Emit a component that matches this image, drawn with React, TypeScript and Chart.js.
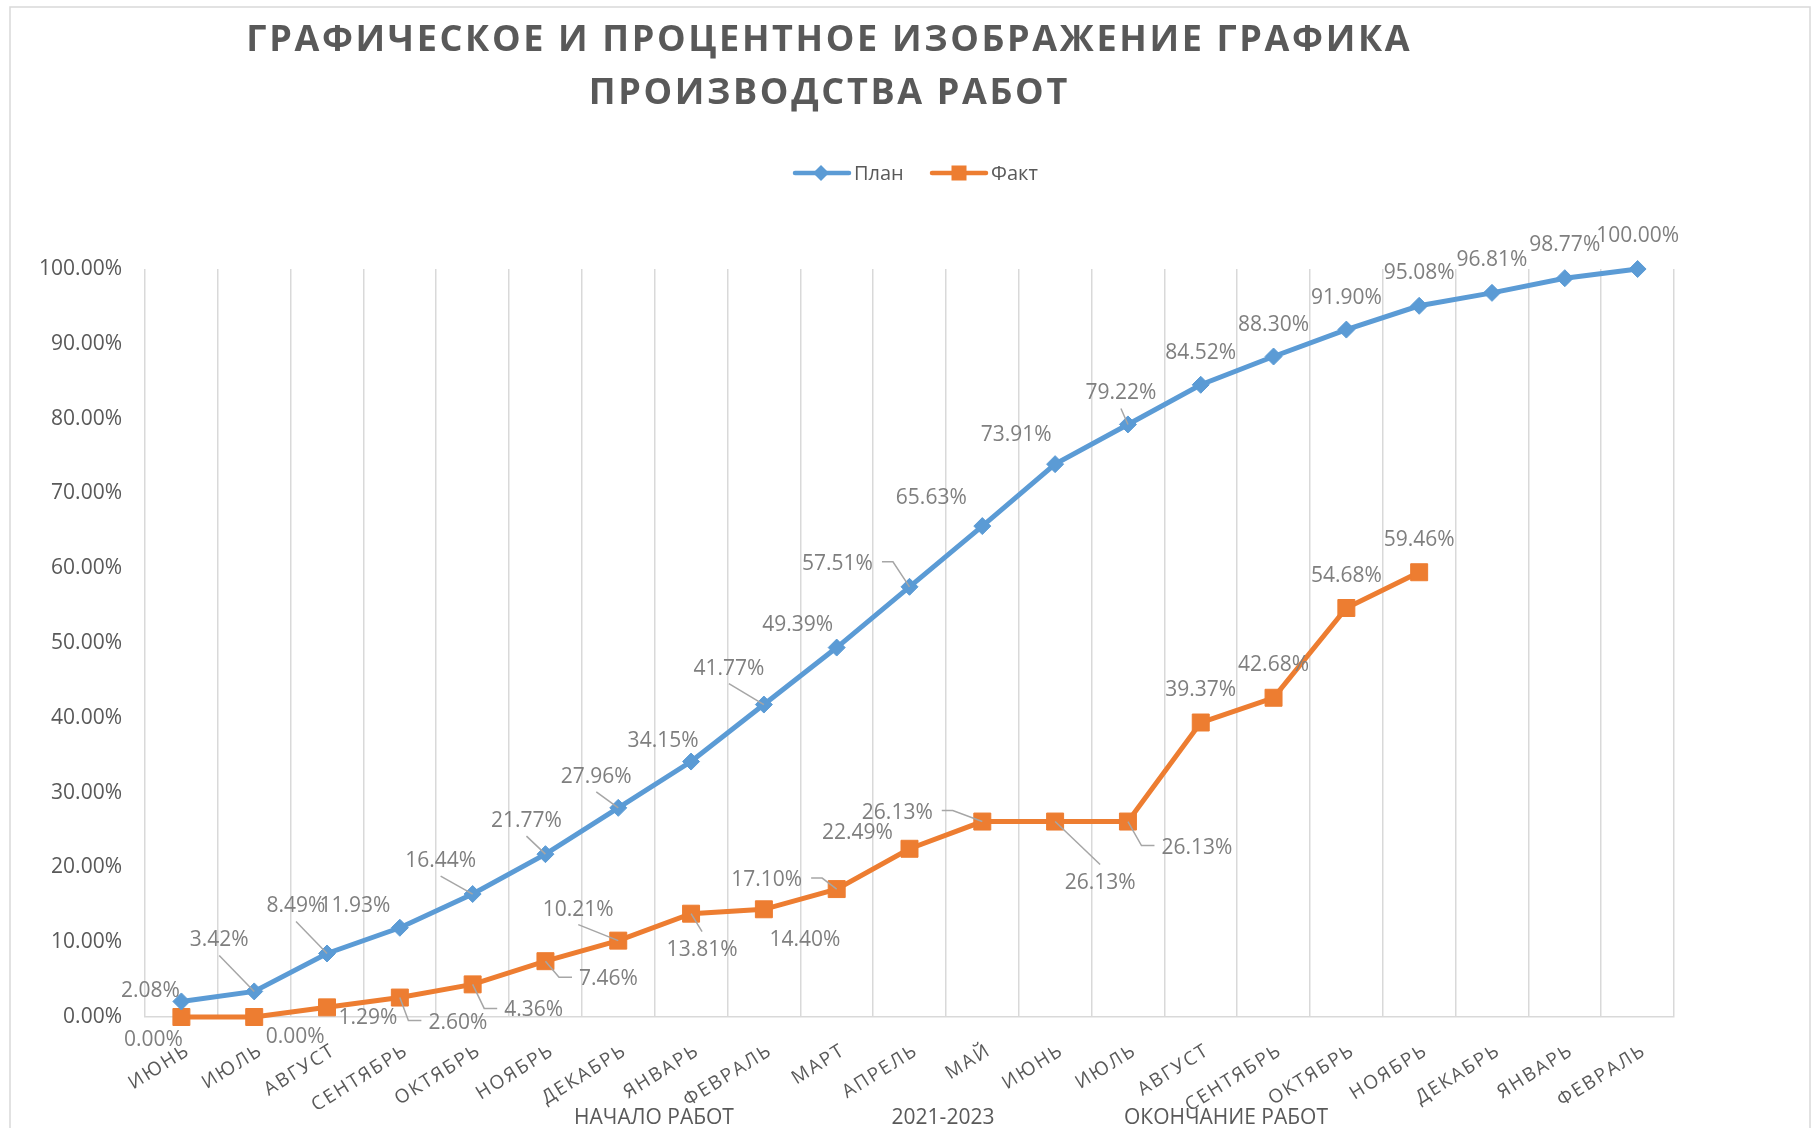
import React, { useEffect, useRef } from 'react';
import { Chart, registerables } from 'chart.js';

Chart.register(...registerables);

// ---------- data ----------
const MONTHS = [
  'ИЮНЬ', 'ИЮЛЬ', 'АВГУСТ', 'СЕНТЯБРЬ', 'ОКТЯБРЬ', 'НОЯБРЬ', 'ДЕКАБРЬ',
  'ЯНВАРЬ', 'ФЕВРАЛЬ', 'МАРТ', 'АПРЕЛЬ', 'МАЙ', 'ИЮНЬ', 'ИЮЛЬ', 'АВГУСТ',
  'СЕНТЯБРЬ', 'ОКТЯБРЬ', 'НОЯБРЬ', 'ДЕКАБРЬ', 'ЯНВАРЬ', 'ФЕВРАЛЬ',
];
const PLAN = [
  2.08, 3.42, 8.49, 11.93, 16.44, 21.77, 27.96, 34.15, 41.77, 49.39, 57.51,
  65.63, 73.91, 79.22, 84.52, 88.3, 91.9, 95.08, 96.81, 98.77, 100.0,
];
const FACT: (number | null)[] = [
  0.0, 0.0, 1.29, 2.6, 4.36, 7.46, 10.21, 13.81, 14.4, 17.1, 22.49, 26.13,
  26.13, 26.13, 39.37, 42.68, 54.68, 59.46, null, null, null,
];
const SERIES_NAMES = ['План', 'Факт'];
const TITLE_LINES = ['ГРАФИЧЕСКОЕ И ПРОЦЕНТНОЕ ИЗОБРАЖЕНИЕ ГРАФИКА', 'ПРОИЗВОДСТВА РАБОТ'];
const PERIOD_LABELS = ['НАЧАЛО РАБОТ', '2021-2023', 'ОКОНЧАНИЕ РАБОТ'];
const Y_MIN = 0;
const Y_MAX = 100;
const Y_STEP = 10;

// ---------- styles ----------
const PLAN_COLOR = '#5b9bd5';
const FACT_COLOR = '#ed7d31';
const TEXT_DARK = '#595959';
const TEXT_LABEL = '#7f7f7f';
const GRID = '#d9d9d9';
const FONT = '"Open Sans", "Noto Sans", sans-serif';

// label offsets (dx, dy from point) and leader-line style
type LabelPos = [number, number, string];
const PLAN_LABEL_POS: LabelPos[] = [
  [-31, -10, ''], [-35, -51, 'b'], [-31, -47, 'b'], [-45, -22, ''], [-32, -33, 'b'],
  [-19, -33, 'b'], [-22, -31, 'b'], [-28, -21, ''], [-35, -36, 'b'], [-39, -23, ''],
  [-72, -23, 'r'], [-51, -28, ''], [-39, -29, ''], [-7, -31, 'b'], [0, -32, ''],
  [0, -32, ''], [0, -32, ''], [0, -33, ''], [0, -33, ''], [0, -33, ''], [0, -33, ''],
];
const FACT_LABEL_POS: LabelPos[] = [
  [-28, 23, ''], [41, 20, ''], [41, 11, ''], [58, 25, 'l'], [61, 26, 'l'],
  [63, 18, 'l'], [-40, -31, 'b'], [11, 36, 't'], [41, 31, ''], [-70, -9, 'r'],
  [-52, -16, ''], [-85, -9, 'r'], [45, 61, 't'], [69, 26, 'l'], [0, -32, ''],
  [0, -33, ''], [0, -32, ''], [0, -32, ''], [0, 0, ''], [0, 0, ''], [0, 0, ''],
];
const PERIOD_X = [654, 943, 1226];

const setSpacing = (ctx: any, px: number) => {
  try { ctx.letterSpacing = px + 'px'; } catch (e) { /* ignore */ }
};

const decorPlugin = {
  id: 'decor',
  afterDatasetsDraw(chart: any) {
    const ctx = chart.ctx;
    ctx.save();
    ctx.font = '21px ' + FONT;
    ctx.textAlign = 'center';
    ctx.textBaseline = 'middle';
    const sets: [number, (number | null)[], LabelPos[]][] = [
      [0, PLAN, PLAN_LABEL_POS],
      [1, FACT, FACT_LABEL_POS],
    ];
    sets.forEach(([di, values, pos]) => {
      const meta = chart.getDatasetMeta(di);
      values.forEach((v, i) => {
        if (v === null || v === undefined) return;
        const pt = meta.data[i];
        const px = pt.x;
        const py = pt.y;
        const [dx, dy, leader] = pos[i];
        const cx = px + dx;
        const cy = py + dy;
        const text = v.toFixed(2) + '%';
        const w = ctx.measureText(text).width;
        if (leader) {
          ctx.beginPath();
          ctx.strokeStyle = '#a6a6a6';
          ctx.lineWidth = 1.5;
          if (leader === 'b') {
            ctx.moveTo(cx, cy + 15);
            ctx.lineTo(px, py);
          } else if (leader === 't') {
            ctx.moveTo(cx, cy - 18);
            ctx.lineTo(px, py);
          } else if (leader === 'r') {
            const sx = cx + w / 2 + 9;
            ctx.moveTo(sx, cy - 2);
            ctx.lineTo(sx + 11, cy - 2);
            ctx.lineTo(px, py);
          } else if (leader === 'l') {
            const sx = cx - w / 2 - 7;
            ctx.moveTo(sx, cy - 2);
            ctx.lineTo(sx - 13, cy - 2);
            ctx.lineTo(px, py);
          }
          ctx.stroke();
        }
        ctx.fillStyle = TEXT_LABEL;
        ctx.fillText(text, cx, cy);
      });
    });
    ctx.restore();
  },
  afterDraw(chart: any) {
    const ctx = chart.ctx;
    const xScale = chart.scales.x;

    // outer border
    ctx.save();
    ctx.strokeStyle = GRID;
    ctx.lineWidth = 1.5;
    ctx.strokeRect(10, 7, 1800, 1200);

    // title
    ctx.fillStyle = TEXT_DARK;
    ctx.font = 'bold 36px ' + FONT;
    ctx.textBaseline = 'alphabetic';
    ctx.textAlign = 'left';
    setSpacing(ctx, 0);
    const w0 = ctx.measureText(TITLE_LINES[0]).width;
    const spacing = Math.max(0, (1166 - w0) / TITLE_LINES[0].length);
    setSpacing(ctx, spacing);
    const titleBase = [51, 104];
    TITLE_LINES.forEach((line, k) => {
      const w = ctx.measureText(line).width - spacing;
      ctx.fillText(line, 828 - w / 2, titleBase[k]);
    });
    setSpacing(ctx, 0);

    // legend
    const ly = 173;
    ctx.lineWidth = 4.5;
    ctx.lineCap = 'round';
    ctx.strokeStyle = PLAN_COLOR;
    ctx.beginPath(); ctx.moveTo(795, ly); ctx.lineTo(849, ly); ctx.stroke();
    ctx.fillStyle = PLAN_COLOR;
    ctx.beginPath();
    ctx.moveTo(821, ly - 8); ctx.lineTo(829, ly); ctx.lineTo(821, ly + 8); ctx.lineTo(813, ly);
    ctx.closePath(); ctx.fill();
    ctx.strokeStyle = FACT_COLOR;
    ctx.beginPath(); ctx.moveTo(932, ly); ctx.lineTo(986, ly); ctx.stroke();
    ctx.fillStyle = FACT_COLOR;
    ctx.fillRect(959 - 7.5, ly - 7.5, 15, 15);
    ctx.fillStyle = TEXT_DARK;
    ctx.font = '20px ' + FONT;
    ctx.textBaseline = 'middle';
    ctx.textAlign = 'left';
    ctx.fillText(SERIES_NAMES[0], 854, ly + 1);
    ctx.fillText(SERIES_NAMES[1], 991, ly + 1);

    // x labels (rotated, tracked)
    ctx.font = '19px ' + FONT;
    ctx.textBaseline = 'alphabetic';
    ctx.textAlign = 'right';
    const xs = 2;
    setSpacing(ctx, xs);
    const capH = 19 * 0.714;
    const ang = (-32 * Math.PI) / 180;
    MONTHS.forEach((m, i) => {
      const cx = xScale.getPixelForValue(i);
      ctx.save();
      ctx.translate(cx + 1, 1043);
      ctx.rotate(ang);
      ctx.fillText(m, xs, capH);
      ctx.restore();
    });
    setSpacing(ctx, 0);

    // period labels
    ctx.font = '21px ' + FONT;
    ctx.textAlign = 'center';
    ctx.textBaseline = 'alphabetic';
    PERIOD_LABELS.forEach((t, k) => {
      ctx.fillText(t, PERIOD_X[k], 1124);
    });
    ctx.restore();
  },
};

export default function App() {
  const ref = useRef<HTMLCanvasElement>(null);
  useEffect(() => {
    if (!ref.current) return;
    const chart = new Chart(ref.current, {
      type: 'line',
      data: {
        labels: MONTHS,
        datasets: [
          {
            label: SERIES_NAMES[0],
            data: PLAN,
            borderColor: PLAN_COLOR,
            backgroundColor: PLAN_COLOR,
            borderWidth: 5,
            pointStyle: 'rectRot',
            pointRadius: 8.5,
            pointBorderWidth: 1,
            pointBackgroundColor: PLAN_COLOR,
            pointBorderColor: PLAN_COLOR,
            tension: 0,
            clip: false,
          },
          {
            label: SERIES_NAMES[1],
            data: FACT,
            borderColor: FACT_COLOR,
            backgroundColor: FACT_COLOR,
            borderWidth: 5,
            pointStyle: 'rect',
            pointRadius: 12,
            pointBorderWidth: 1,
            pointBackgroundColor: FACT_COLOR,
            pointBorderColor: FACT_COLOR,
            tension: 0,
            spanGaps: false,
            clip: false,
          },
        ],
      },
      options: {
        responsive: false,
        animation: false,
        layout: { padding: { top: 269, right: 142, bottom: 0, left: 0 } },
        plugins: {
          legend: { display: false },
          title: { display: false },
          tooltip: { enabled: false },
        },
        scales: {
          x: {
            type: 'category',
            offset: true,
            grid: { offset: true, color: GRID, lineWidth: 1.5, drawTicks: false },
            border: { color: GRID, width: 1.5 },
            ticks: { display: false },
            afterFit: (s: any) => { s.height = 111; },
          },
          y: {
            min: Y_MIN,
            max: Y_MAX,
            ticks: {
              stepSize: Y_STEP,
              color: TEXT_DARK,
              font: { family: FONT, size: 21 },
              padding: 23,
              callback: (v: any) => Number(v).toFixed(2) + '%',
            },
            grid: { display: false, drawTicks: false },
            border: { display: false },
            afterFit: (s: any) => { s.width = 145; },
          },
        },
      },
      plugins: [decorPlugin],
    } as any);
    return () => chart.destroy();
  }, []);
  return (
    <div style={{ position: 'fixed', left: 0, top: 0, width: 1816, height: 1128, background: '#fff' }}>
      <canvas ref={ref} width={1816} height={1128} style={{ display: 'block' }} />
    </div>
  );
}
